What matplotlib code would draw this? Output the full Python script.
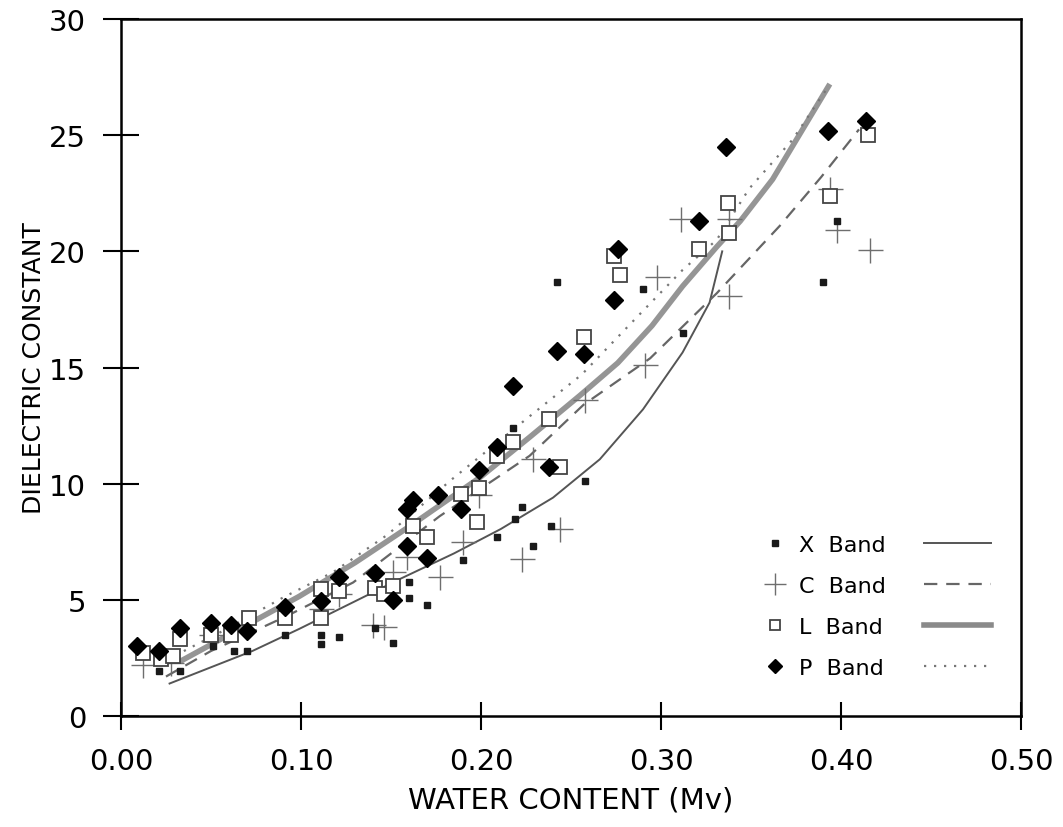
import matplotlib
matplotlib.use("Agg")
import matplotlib.pyplot as plt
from matplotlib.lines import Line2D

# ---- data ----
x_band_x = [0.011, 0.021, 0.033, 0.051, 0.063, 0.070, 0.091, 0.111, 0.111, 0.121, 0.141, 0.151,
            0.160, 0.160, 0.170, 0.190, 0.209, 0.218, 0.219, 0.223, 0.229, 0.239, 0.242, 0.258,
            0.290, 0.312, 0.390, 0.398]
x_band_y = [2.75, 1.95, 1.95, 3.0, 2.8, 2.8, 3.5, 3.5, 3.1, 3.4, 3.8, 3.15,
            5.75, 5.1, 4.8, 6.7, 7.7, 12.4, 8.5, 9.0, 7.3, 8.2, 18.7, 10.1,
            18.4, 16.5, 18.7, 21.3]

c_band_x = [0.012, 0.028, 0.050, 0.111, 0.121, 0.140, 0.146, 0.151, 0.159, 0.177, 0.190, 0.199,
            0.223, 0.229, 0.244, 0.258, 0.291, 0.298, 0.311, 0.338, 0.338, 0.394, 0.398, 0.416]
c_band_y = [2.2, 2.3, 3.5, 4.6, 5.25, 3.9, 3.85, 6.2, 6.85, 6.0, 7.5, 9.5,
            6.75, 11.05, 8.05, 13.6, 15.1, 18.9, 21.4, 21.4, 18.1, 22.7, 20.9, 20.05]

l_band_x = [0.012, 0.022, 0.029, 0.033, 0.050, 0.061, 0.071, 0.091, 0.111, 0.111, 0.121, 0.141,
            0.146, 0.151, 0.162, 0.170, 0.189, 0.198, 0.199, 0.209, 0.218, 0.238, 0.244, 0.257,
            0.274, 0.277, 0.321, 0.337, 0.338, 0.394, 0.415]
l_band_y = [2.7, 2.45, 2.6, 3.3, 3.5, 3.5, 4.2, 4.2, 5.45, 4.2, 5.4, 5.5,
            5.25, 5.6, 8.2, 7.7, 9.55, 8.35, 9.8, 11.2, 11.8, 12.8, 10.7, 16.3,
            19.8, 19.0, 20.1, 22.1, 20.8, 22.4, 25.0]

p_band_x = [0.009, 0.021, 0.033, 0.050, 0.061, 0.070, 0.091, 0.111, 0.121, 0.141, 0.151, 0.159,
            0.159, 0.162, 0.170, 0.176, 0.189, 0.199, 0.209, 0.218, 0.238, 0.242, 0.257, 0.274,
            0.276, 0.321, 0.336, 0.393, 0.414]
p_band_y = [3.0, 2.8, 3.8, 4.0, 3.9, 3.65, 4.7, 4.95, 6.0, 6.15, 5.0, 7.3,
            8.9, 9.3, 6.8, 9.5, 8.9, 10.6, 11.6, 14.2, 10.7, 15.7, 15.6, 17.9,
            20.1, 21.3, 24.5, 25.2, 25.6]

# fitted curves
x_fit_x = [0.027, 0.050, 0.073, 0.099, 0.129, 0.155, 0.185, 0.211, 0.240, 0.266, 0.290, 0.312, 0.327, 0.334]
x_fit_y = [1.4, 2.1, 2.8, 3.75, 4.9, 5.9, 7.0, 8.05, 9.4, 11.05, 13.2, 15.65, 17.8, 20.0]

c_fit_x = [0.025, 0.050, 0.092, 0.129, 0.177, 0.227, 0.257, 0.294, 0.331, 0.366, 0.389, 0.410]
c_fit_y = [1.7, 2.8, 4.3, 5.75, 8.6, 11.2, 13.4, 15.4, 18.2, 21.1, 23.2, 25.25]

l_fit_x = [0.034, 0.060, 0.099, 0.130, 0.161, 0.200, 0.227, 0.255, 0.276, 0.295, 0.312, 0.331, 0.344, 0.362, 0.393]
l_fit_y = [2.4, 3.5, 5.15, 6.6, 8.2, 10.3, 12.0, 13.8, 15.2, 16.8, 18.5, 20.2, 21.3, 23.1, 27.1]

p_fit_x = [0.030, 0.060, 0.090, 0.118, 0.148, 0.184, 0.227, 0.256, 0.287, 0.312, 0.331, 0.349, 0.373, 0.393]
p_fit_y = [2.6, 3.8, 5.1, 6.2, 7.8, 10.2, 12.9, 14.7, 17.2, 19.2, 20.5, 22.7, 24.8, 27.1]

band_labels = ["X  Band", "C  Band", "L  Band", "P  Band"]
x_ticks = [0.0, 0.1, 0.2, 0.3, 0.4, 0.5]
x_tick_labels = ["0.00", "0.10", "0.20", "0.30", "0.40", "0.50"]
y_ticks = [0, 5, 10, 15, 20, 25, 30]

# ---- figure ----
plt.rcParams['font.family'] = ['DejaVu Sans']
fig = plt.figure(figsize=(10.63, 8.28), dpi=100)
ax = fig.add_axes([0.1138, 0.134, 0.8467, 0.8418])

# curves
lx, = ax.plot(x_fit_x, x_fit_y, '-', color='#555555', lw=1.4)
lc, = ax.plot(c_fit_x, c_fit_y, '--', color='#666666', lw=1.6, dashes=(6, 4))
ll, = ax.plot(l_fit_x, l_fit_y, '-', color='#8a8a8a', lw=4.0, alpha=0.9)
lp, = ax.plot(p_fit_x, p_fit_y, ':', color='#777777', lw=1.6, dashes=(1, 3.5))

# points
mc, = ax.plot(c_band_x, c_band_y, '+', ls='none', color='#6e6e6e', ms=18, mew=1.0)
mx, = ax.plot(x_band_x, x_band_y, 's', ls='none', color='#1a1a1a', ms=4.5)
ml, = ax.plot(l_band_x, l_band_y, 's', ls='none', mfc='white', mec='#444444', ms=10, mew=1.3)
mp, = ax.plot(p_band_x, p_band_y, 'D', ls='none', color='black', ms=9)

ax.set_xlim(0, 0.5)
ax.set_ylim(0, 30)
ax.set_xticks(x_ticks)
ax.set_xticklabels(x_tick_labels)
ax.set_yticks(y_ticks)
ax.tick_params(axis='both', direction='inout', width=1.5, colors='black', labelsize=21)
ax.tick_params(axis='y', length=26, pad=12)
ax.tick_params(axis='x', length=20, pad=12)
ax.tick_params(top=False, right=False)
for s in ax.spines.values():
    s.set_linewidth(1.8)

ax.set_xlabel("WATER CONTENT (Mv)", fontsize=21, labelpad=8)
ax.set_ylabel("DIELECTRIC CONSTANT", fontsize=18, labelpad=2)

# legend: marker + label, then a line sample on the right
mk_handles = [Line2D([], [], marker='s', ls='none', color='#1a1a1a', ms=4.5),
              Line2D([], [], marker='+', ls='none', color='#6e6e6e', ms=16, mew=1.0),
              Line2D([], [], marker='s', ls='none', mfc='white', mec='#444444', ms=7, mew=1.3),
              Line2D([], [], marker='D', ls='none', color='black', ms=7)]
leg1 = ax.legend(mk_handles, band_labels, loc='lower left', bbox_to_anchor=(0.704, 0.042),
                 frameon=False, fontsize=16, labelspacing=0.95, handlelength=1.0,
                 handletextpad=0.6, borderaxespad=0.0)
leg1.set_zorder(5)
ax.add_artist(leg1)
ln_handles = [Line2D([], [], ls='-', color='#555555', lw=1.4),
              Line2D([], [], ls='--', color='#666666', lw=1.6, dashes=(6, 4)),
              Line2D([], [], ls='-', color='#8a8a8a', lw=4.0),
              Line2D([], [], ls=':', color='#777777', lw=1.6, dashes=(1, 3.5))]
leg2 = ax.legend(ln_handles, ["", "", "", ""], loc='lower right', bbox_to_anchor=(0.976, 0.042),
                 frameon=False, fontsize=16, labelspacing=0.95, handlelength=3.0,
                 handletextpad=0.0, borderaxespad=0.0)

fig.savefig("out.png", dpi=100, facecolor='white')
